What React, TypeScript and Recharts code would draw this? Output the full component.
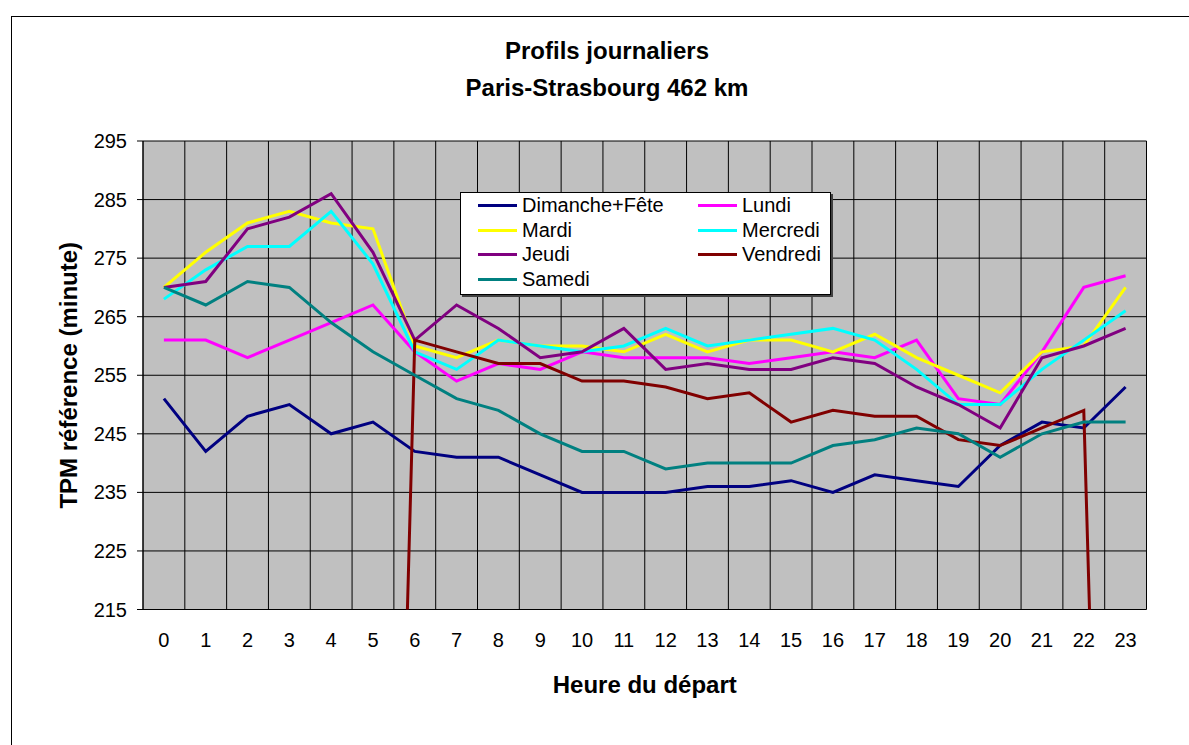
import React from "react";
import { LineChart, Line, XAxis, YAxis, CartesianGrid, Legend, Label } from "recharts";

const hours = [0, 1, 2, 3, 4, 5, 6, 7, 8, 9, 10, 11, 12, 13, 14, 15, 16, 17, 18, 19, 20, 21, 22, 23];
const yTicks = [215, 225, 235, 245, 255, 265, 275, 285, 295];
const boundaryTicks = [0, 1, 2, 3, 4, 5, 6, 7, 8, 9, 10, 11, 12, 13, 14, 15, 16, 17, 18, 19, 20, 21, 22, 23, 24];

const dimanche = [251, 242, 248, 250, 245, 247, 242, 241, 241, 238, 235, 235, 235, 236, 236, 237, 235, 238, 237, 236, 243, 247, 246, 253];
const lundi = [261, 261, 258, 261, 264, 267, 259, 254, 257, 256, 259, 258, 258, 258, 257, 258, 259, 258, 261, 251, 250, 259, 270, 272];
const mardi = [270, 276, 281, 283, 281, 280, 260, 258, 261, 260, 260, 259, 262, 259, 261, 261, 259, 262, 258, 255, 252, 259, 260, 270];
const mercredi = [268, 273, 277, 277, 283, 274, 259, 256, 261, 260, 259, 260, 263, 260, 261, 262, 263, 261, 256, 250, 250, 256, 261, 266];
const jeudi = [270, 271, 280, 282, 286, 276, 261, 267, 263, 258, 259, 263, 256, 257, 256, 256, 258, 257, 253, 250, 246, 258, 260, 263];
// no value before 6h nor at 23h: 0 in the source sheet
const vendredi = [0, 0, 0, 0, 0, 0, 261, 259, 257, 257, 254, 254, 253, 251, 252, 247, 249, 248, 248, 244, 243, 246, 249, 0];
const samedi = [270, 267, 271, 270, 264, 259, 255, 251, 249, 245, 242, 242, 239, 240, 240, 240, 243, 244, 246, 245, 241, 245, 247, 247];

const series = [
  { key: "dim", name: "Dimanche+Fête", color: "#000080", values: dimanche },
  { key: "lun", name: "Lundi", color: "#FF00FF", values: lundi },
  { key: "mar", name: "Mardi", color: "#FFFF00", values: mardi },
  { key: "mer", name: "Mercredi", color: "#00FFFF", values: mercredi },
  { key: "jeu", name: "Jeudi", color: "#800080", values: jeudi },
  { key: "ven", name: "Vendredi", color: "#800000", values: vendredi },
  { key: "sam", name: "Samedi", color: "#008080", values: samedi },
];

// each hour sits in the middle of its slot
const data = hours.map((h, i) => {
  const row: any = { x: h + 0.5 };
  series.forEach((s) => {
    row[s.key] = s.values[i];
  });
  return row;
});

const renderLegend = () => (
  <div
    style={{
      width: 371,
      height: 103,
      boxSizing: "border-box",
      background: "#fff",
      border: "1px solid #000",
      boxShadow: "2px 2px 0 #404040",
      paddingLeft: 17,
      display: "grid",
      gridTemplateColumns: "220px 130px",
      gridAutoRows: "24.7px",
    }}
  >
    {series.map((s) => (
      <div key={`leg-${s.key}`} style={{ display: "flex", alignItems: "center" }}>
        <span style={{ width: 39, height: 3, background: s.color, marginRight: 5 }} />
        <span style={{ fontSize: 20, color: "#000", whiteSpace: "nowrap" }}>{s.name}</span>
      </div>
    ))}
  </div>
);

export default function App() {
  return (
    <div
      style={{
        position: "fixed",
        left: 0,
        top: 0,
        width: 1189,
        height: 745,
        overflow: "hidden",
        background: "#fff",
        fontFamily: "'Liberation Sans', Arial, sans-serif",
      }}
    >
      <div
        style={{
          position: "absolute",
          left: 11,
          top: 16,
          width: 1300,
          height: 900,
          borderLeft: "1px solid #000",
          borderTop: "1px solid #000",
        }}
      />
      <div
        style={{
          position: "absolute",
          left: 207,
          top: 33,
          width: 800,
          textAlign: "center",
          fontWeight: "bold",
          fontSize: 24,
          lineHeight: "36.6px",
          color: "#000",
        }}
      >
        Profils journaliers
        <br />
        Paris-Strasbourg 462 km
      </div>
      <div style={{ position: "absolute", left: 0, top: 0 }}>
        <LineChart width={1189} height={745} data={data} margin={{ top: 141, right: 42.5, bottom: 95.5, left: 0 }}>
          <CartesianGrid stroke="#000" fill="#C0C0C0" />
          <XAxis
            dataKey="x"
            type="number"
            domain={[0, 24]}
            ticks={boundaryTicks}
            interval={0}
            height={0}
            tickSize={6}
            tickFormatter={() => ""}
            axisLine={{ stroke: "#000" }}
            tickLine={{ stroke: "#000" }}
          />
          <XAxis
            xAxisId="lbl"
            dataKey="x"
            type="number"
            domain={[0, 24]}
            ticks={hours.map((h) => h + 0.5)}
            interval={0}
            height={40}
            tickSize={0}
            tickMargin={23}
            tickFormatter={(v: number) => String(Math.floor(v))}
            axisLine={false}
            tickLine={false}
            tick={{ fontSize: 20, fill: "#000" }}
          >
            <Label value="Heure du départ" position="bottom" offset={26} style={{ fontSize: 24, fontWeight: "bold", fill: "#000" }} />
          </XAxis>
          <YAxis
            type="number"
            domain={[215, 295]}
            ticks={yTicks}
            interval={0}
            allowDataOverflow
            width={143}
            tickSize={6}
            tickMargin={10}
            axisLine={{ stroke: "#000" }}
            tickLine={{ stroke: "#000" }}
            tick={{ fontSize: 20, fill: "#000" }}
          >
            <Label
              value="TPM référence (minute)"
              angle={-90}
              position="center"
              dx={-3}
              style={{ fontSize: 24, fontWeight: "bold", fill: "#000", textAnchor: "middle" }}
            />
          </YAxis>
          <Legend
            content={renderLegend}
            layout="horizontal"
            verticalAlign="middle"
            align="center"
            wrapperStyle={{ left: 460, top: 192, width: 371, height: 103 }}
          />
          {/* hidden copy so the label axis gets the same plot range */}
          <Line
            xAxisId="lbl"
            dataKey="dim"
            stroke="none"
            dot={false}
            activeDot={false}
            legendType="none"
            isAnimationActive={false}
          />
          {series.map((s) => (
            <Line
              key={s.key}
              type="linear"
              dataKey={s.key}
              name={s.name}
              stroke={s.color}
              strokeWidth={3}
              dot={false}
              activeDot={false}
              isAnimationActive={false}
            />
          ))}
        </LineChart>
      </div>
    </div>
  );
}
